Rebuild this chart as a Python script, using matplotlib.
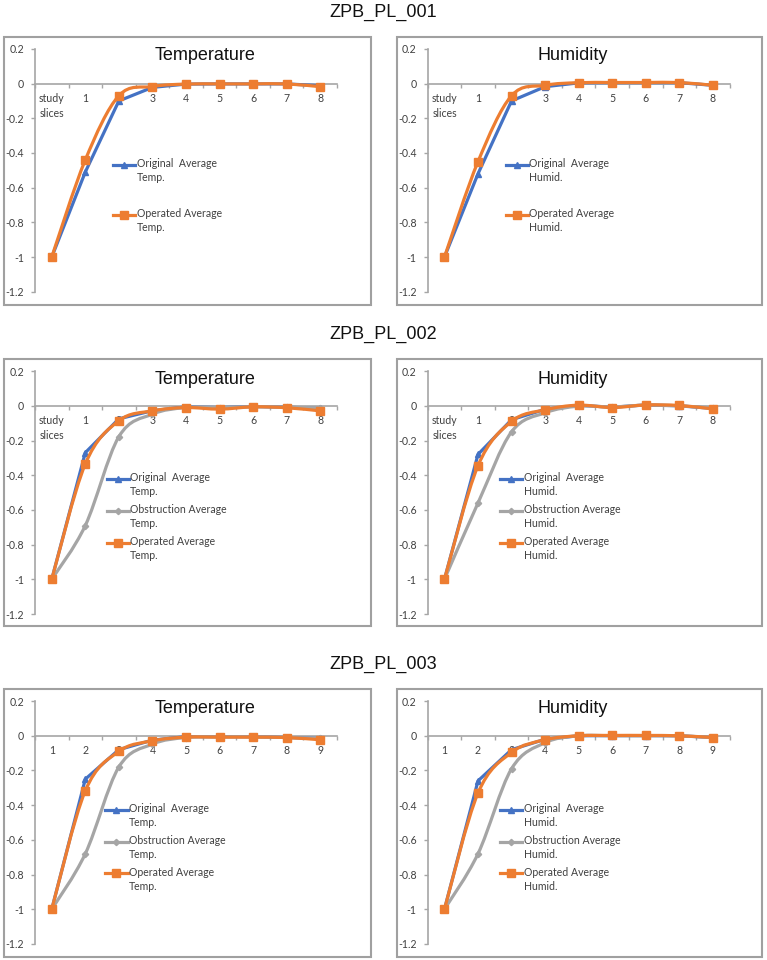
import numpy as np
import matplotlib
matplotlib.use("Agg")
import matplotlib.pyplot as plt
from matplotlib.path import Path
from matplotlib.patches import PathPatch, Rectangle
from matplotlib.lines import Line2D
from matplotlib.legend_handler import HandlerLine2D

plt.rcParams['axes.unicode_minus'] = False

# ---------------- data ----------------
x_labels_001_002 = ["study\nslices", "1", "2", "3", "4", "5", "6", "7", "8"]
x_labels_003 = ["1", "2", "3", "4", "5", "6", "7", "8", "9"]
y_ticks = [0.2, 0, -0.2, -0.4, -0.6, -0.8, -1, -1.2]
y_tick_labels = ["0.2", "0", "-0.2", "-0.4", "-0.6", "-0.8", "-1", "-1.2"]
group_titles = ["ZPB_PL_001", "ZPB_PL_002", "ZPB_PL_003"]
panel_titles = ["Temperature", "Humidity"]

pl001_temp_original = [-1, -0.51, -0.10, -0.022, -0.003, -0.002, -0.002, -0.002, -0.012]
pl001_temp_operated = [-1, -0.44, -0.07, -0.017, -0.003, -0.002, -0.002, -0.002, -0.018]
pl001_humid_original = [-1, -0.52, -0.10, -0.018, 0.004, 0.005, 0.005, 0.005, -0.010]
pl001_humid_operated = [-1, -0.45, -0.07, -0.010, 0.005, 0.006, 0.006, 0.006, -0.010]

pl002_temp_original = [-1, -0.27, -0.075, -0.028, -0.006, -0.010, -0.004, -0.008, -0.015]
pl002_temp_obstruction = [-1, -0.69, -0.178, -0.048, -0.010, -0.010, -0.005, -0.008, -0.012]
pl002_temp_operated = [-1, -0.335, -0.086, -0.029, -0.010, -0.019, -0.006, -0.011, -0.029]
pl002_humid_original = [-1, -0.28, -0.080, -0.020, 0.003, -0.008, 0.005, 0.000, -0.015]
pl002_humid_obstruction = [-1, -0.56, -0.150, -0.040, -0.002, -0.006, 0.004, 0.000, -0.012]
pl002_humid_operated = [-1, -0.345, -0.090, -0.023, 0.004, -0.010, 0.005, 0.002, -0.018]

pl003_temp_original = [-1, -0.25, -0.080, -0.025, -0.005, -0.005, -0.005, -0.010, -0.015]
pl003_temp_obstruction = [-1, -0.68, -0.180, -0.048, -0.010, -0.006, -0.006, -0.010, -0.015]
pl003_temp_operated = [-1, -0.317, -0.090, -0.029, -0.008, -0.008, -0.008, -0.010, -0.023]
pl003_humid_original = [-1, -0.26, -0.080, -0.020, 0.000, 0.001, 0.001, 0.000, -0.010]
pl003_humid_obstruction = [-1, -0.68, -0.190, -0.040, 0.000, 0.000, 0.000, 0.000, -0.010]
pl003_humid_operated = [-1, -0.33, -0.096, -0.023, 0.000, 0.002, 0.002, 0.000, -0.010]

# ---------------- style ----------------
BLUE = "#4472C4"
ORANGE = "#ED7D31"
GRAY = "#A5A5A5"
AXIS_GRAY = "#A6A6A6"
TEXT = "#404040"
TICK_FONT = "Lato"
TITLE_FONT = "Liberation Sans"
LEG_LINESPACING = 1.3
LEG_SHIFT = 4.7

W, H = 767, 960
fig = plt.figure(figsize=(W / 100, H / 100), dpi=100)


class FirstLineHandler(HandlerLine2D):
    """Align the legend key with the first line of a two-line label."""
    def __init__(self, shift, **kw):
        super().__init__(**kw)
        self.shift = shift

    def create_artists(self, legend, orig_handle, xdescent, ydescent,
                       width, height, fontsize, trans):
        return super().create_artists(legend, orig_handle, xdescent,
                                      ydescent - 2 * self.shift, width,
                                      height, fontsize, trans)


def smooth_path(x, y):
    x = np.asarray(x, float)
    y = np.asarray(y, float)
    n = len(x)
    verts = [(x[0], y[0])]
    codes = [Path.MOVETO]
    for i in range(n - 1):
        p0 = np.array([x[max(i - 1, 0)], y[max(i - 1, 0)]])
        p1 = np.array([x[i], y[i]])
        p2 = np.array([x[i + 1], y[i + 1]])
        p3 = np.array([x[min(i + 2, n - 1)], y[min(i + 2, n - 1)]])
        c1 = p1 + (p2 - p0) / 6.0
        c2 = p2 - (p3 - p1) / 6.0
        verts += [tuple(c1), tuple(c2), tuple(p2)]
        codes += [Path.CURVE4] * 3
    return Path(verts, codes)


def draw_panel(ax, xlabels, series, legend_anchor, labelspacing):
    x = np.arange(len(xlabels))
    for s in ["top", "right"]:
        ax.spines[s].set_visible(False)
    ax.spines["bottom"].set_position(("data", 0))
    ax.spines["bottom"].set_color(AXIS_GRAY)
    ax.spines["left"].set_color(AXIS_GRAY)
    ax.spines["bottom"].set_linewidth(1.2)
    ax.spines["left"].set_linewidth(1.2)
    ax.patch.set_alpha(0)

    handles = []
    labels = []
    hmap = {}
    for name, values, color, marker, ms, smooth in series:
        if smooth:
            ax.add_patch(PathPatch(smooth_path(x, values), facecolor="none",
                                   edgecolor=color, lw=2.3, capstyle="round",
                                   joinstyle="round", zorder=3))
            ax.plot(x, values, linestyle="none", marker=marker, ms=ms,
                    color=color, zorder=4, clip_on=False)
        else:
            ax.plot(x, values, color=color, lw=2.3, marker=marker, ms=ms,
                    zorder=3, clip_on=False, solid_joinstyle="round")
        h = Line2D([], [], color=color, lw=2.3, marker=marker, ms=ms)
        handles.append(h)
        labels.append(name)
        hmap[h] = FirstLineHandler(LEG_SHIFT, numpoints=1)
    ax.set_xlim(-0.5, len(xlabels) - 0.5)
    ax.set_ylim(-1.2, 0.2)
    ax.set_xticks(x)
    ax.set_xticklabels(xlabels, fontfamily=TICK_FONT, fontsize=7.6, color=TEXT)
    ax.set_xticks(np.arange(len(xlabels) + 1) - 0.5, minor=True)
    ax.set_yticks(y_ticks)
    ax.set_yticklabels(y_tick_labels, fontfamily=TICK_FONT, fontsize=7.6, color=TEXT)
    ax.tick_params(axis="x", which="major", length=0, pad=6.5)
    ax.tick_params(axis="x", which="minor", length=3, width=1, color=AXIS_GRAY,
                   direction="out")
    ax.tick_params(axis="y", length=3, width=1, color=AXIS_GRAY, pad=5)
    for lab in ax.get_xticklabels():
        lab.set_linespacing(1.45)

    leg = ax.legend(handles, labels, handler_map=hmap, loc="upper left",
                    bbox_to_anchor=legend_anchor, frameon=False,
                    prop={"family": TICK_FONT, "size": 7.6},
                    handlelength=2.1, handletextpad=0.15,
                    labelspacing=labelspacing, borderpad=0, borderaxespad=0)
    for t in leg.get_texts():
        t.set_color(TEXT)
        t.set_linespacing(LEG_LINESPACING)
    return ax


# layout (figure fractions)
col_axes_x = [0.0456, 0.5576]
axes_w = 0.3937
row_axes_y = [0.6961, 0.3604, 0.0167]
axes_h = 0.2530
box_x = [(0.0052, 0.4785), (0.5176, 0.4759)]
box_y = [(0.6823, 0.2792), (0.3479, 0.2781), (0.0031, 0.2792)]
group_title_y = [0.9875, 0.652, 0.3083]
panel_title_y = [0.9417, 0.6042, 0.2615]
panel_title_x = [0.2673, 0.747]

unit = {"Temperature": "Temp.", "Humidity": "Humid."}

rows = [
    (x_labels_001_002,
     [[("Original  Average", pl001_temp_original, BLUE, "^", 5, False),
       ("Operated Average", pl001_temp_operated, ORANGE, "s", 5.2, True)],
      [("Original  Average", pl001_humid_original, BLUE, "^", 5, False),
       ("Operated Average", pl001_humid_operated, ORANGE, "s", 5.2, True)]],
     2.35),
    (x_labels_001_002,
     [[("Original  Average", pl002_temp_original, BLUE, "^", 5, False),
       ("Obstruction Average", pl002_temp_obstruction, GRAY, "D", 3.2, True),
       ("Operated Average", pl002_temp_operated, ORANGE, "s", 5.2, True)],
      [("Original  Average", pl002_humid_original, BLUE, "^", 5, False),
       ("Obstruction Average", pl002_humid_obstruction, GRAY, "D", 3.2, True),
       ("Operated Average", pl002_humid_operated, ORANGE, "s", 5.2, True)]],
     0.68),
    (x_labels_003,
     [[("Original  Average", pl003_temp_original, BLUE, "^", 5, False),
       ("Obstruction Average", pl003_temp_obstruction, GRAY, "D", 3.2, True),
       ("Operated Average", pl003_temp_operated, ORANGE, "s", 5.2, True)],
      [("Original  Average", pl003_humid_original, BLUE, "^", 5, False),
       ("Obstruction Average", pl003_humid_obstruction, GRAY, "D", 3.2, True),
       ("Operated Average", pl003_humid_operated, ORANGE, "s", 5.2, True)]],
     0.68),
]

legend_anchors = [
    [(0.258, 0.549), (0.258, 0.549)],
    [(0.237, 0.583), (0.239, 0.583)],
    [(0.233, 0.58), (0.239, 0.58)],
]

for r, (xlabels, panels, lsp) in enumerate(rows):
    fig.text(0.4994, group_title_y[r], group_titles[r], ha="center", va="center",
             fontfamily=TITLE_FONT, fontsize=13, color="#111111")
    for c in range(2):
        bx, bw = box_x[c]
        by, bh = box_y[r]
        fig.add_artist(Rectangle((bx, by), bw, bh, transform=fig.transFigure,
                                 fill=False, edgecolor="#A0A0A0", lw=1.5))
        ax = fig.add_axes([col_axes_x[c], row_axes_y[r], axes_w, axes_h])
        u = unit[panel_titles[c]]
        series = [(name + "\n" + u, v, col, m, ms, sm)
                  for (name, v, col, m, ms, sm) in panels[c]]
        draw_panel(ax, xlabels, series, legend_anchors[r][c], lsp)
        fig.text(panel_title_x[c], panel_title_y[r], panel_titles[c],
                 ha="center", va="center", fontfamily=TITLE_FONT,
                 fontsize=13, color="#111111")

fig.savefig("out.png", dpi=100)
